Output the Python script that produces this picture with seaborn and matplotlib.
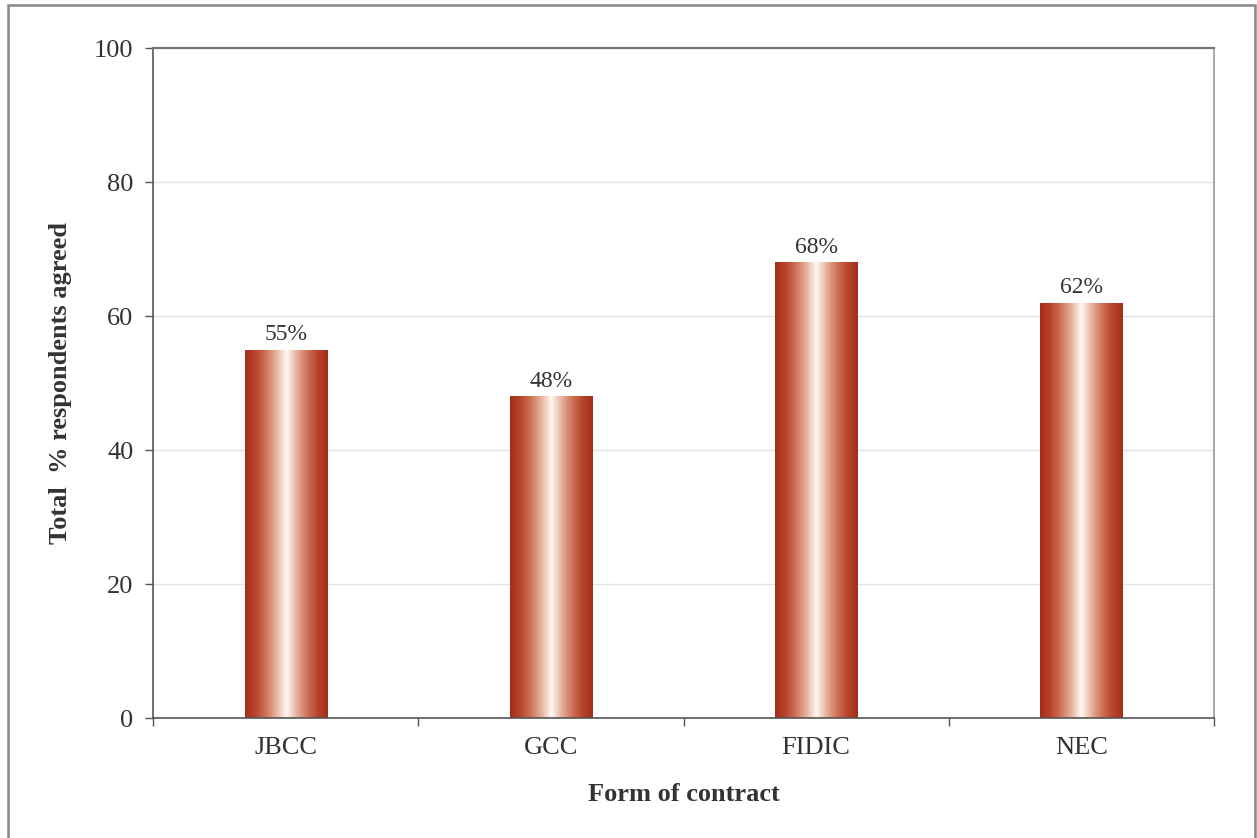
import matplotlib
matplotlib.use("Agg")
import matplotlib.pyplot as plt
import numpy as np
import pandas as pd
import seaborn as sns
from matplotlib.colors import LinearSegmentedColormap
from matplotlib.patches import Rectangle

# chart data
contracts = ["JBCC", "GCC", "FIDIC", "NEC"]
agreed_pct = [55, 48, 68, 62]
y_ticks = [0, 20, 40, 60, 80, 100]

df = pd.DataFrame({"contract": contracts, "agreed": agreed_pct})

sns.set_theme(style="white")
plt.rcParams["font.family"] = ["Liberation Serif", "DejaVu Serif"]

fig = plt.figure(figsize=(12.57, 8.38), dpi=100)
ax = fig.add_axes([153 / 1257, 1 - 718 / 838, (1214 - 153) / 1257, (718 - 48) / 838])

sns.barplot(data=df, x="contract", y="agreed", ax=ax, width=0.31,
            color="#B0361F", linewidth=0, saturation=1)

# horizontal gradient fill: dark red edges, white centre
grad_cmap = LinearSegmentedColormap.from_list(
    "bar_grad",
    ["#A52E18", "#B8442C", "#CF7258", "#E6B09C", "#FFF8F2",
     "#E6B09C", "#CF7258", "#B8442C", "#A52E18"],
)
gradient = np.linspace(0, 1, 256).reshape(1, -1)
for patch in ax.patches:
    x0 = patch.get_x()
    w = patch.get_width()
    h = patch.get_height()
    patch.set_facecolor("none")
    im = ax.imshow(gradient, cmap=grad_cmap, aspect="auto",
                   extent=(x0, x0 + w, 0, h), zorder=2)
    im.set_clip_path(patch)

ax.bar_label(ax.containers[0], fmt="%d%%", padding=3, fontsize=17, color="#333333")

ax.set_xlim(-0.5, len(contracts) - 0.5)
ax.set_ylim(0, 100)
ax.set_yticks(y_ticks)
ax.set_xticks(np.arange(len(contracts) + 1) - 0.5, minor=True)
ax.tick_params(axis="x", which="major", length=0, pad=14, labelsize=19, labelcolor="#333333")
ax.tick_params(axis="x", which="minor", bottom=True, length=6, width=1, color="#555555", direction="out")
ax.tick_params(axis="y", left=True, length=6, width=1, color="#555555", direction="out",
               pad=8, labelsize=19, labelcolor="#333333")

ax.yaxis.grid(True, color="#E2E2E2", linewidth=1)
ax.set_axisbelow(True)

for side in ["left", "bottom"]:
    ax.spines[side].set_color("#555555")
    ax.spines[side].set_linewidth(1.2)
ax.spines["top"].set_color("#777777")
ax.spines["top"].set_linewidth(1.6)
ax.spines["right"].set_color("#999999")
ax.spines["right"].set_linewidth(1.2)

ax.set_xlabel("Form of contract", fontsize=19, fontweight="bold", color="#333333", labelpad=17)
ax.set_ylabel("Total  % respondents agreed", fontsize=19, fontweight="bold", color="#333333", labelpad=16)

# outer frame around the figure
fig.patches.append(Rectangle((8 / 1257, -0.01), (1255 - 8) / 1257, 1 - 5 / 838 + 0.01,
                             transform=fig.transFigure, fill=False,
                             edgecolor="#888888", linewidth=1.8))

fig.savefig("out.png", dpi=100)
